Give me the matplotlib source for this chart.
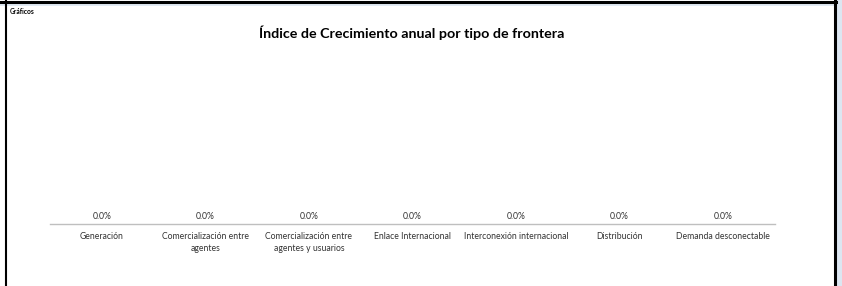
import matplotlib.pyplot as plt
from matplotlib.lines import Line2D
from matplotlib.patches import Rectangle

plt.rcParams['font.family'] = ['Lato', 'DejaVu Sans']

## Annual growth index per border type (all values are zero in the source)
categorias = ['Generación', 'Comercialización entre\nagentes',
              'Comercialización entre\nagentes y usuarios', 'Enlace Internacional',
              'Interconexión internacional', 'Distribución', 'Demanda desconectable']
valores = [0.0, 0.0, 0.0, 0.0, 0.0, 0.0, 0.0]

W, H = 842, 286
fig = plt.figure(figsize=(W / 100, H / 100), dpi=100)

# light blue strip on the right, and the sheet frame
fig.add_artist(Rectangle((837 / W, 0), 5 / W, 1, transform=fig.transFigure, color='#dce6f1', lw=0))
fig.add_artist(Line2D([0, 835.5 / W], [1 - 4.5 / H, 1 - 4.5 / H], transform=fig.transFigure, color='#dce6f1', lw=1.2))
fig.add_artist(Line2D([0, 836 / W], [1 - 1.8 / H, 1 - 1.8 / H], transform=fig.transFigure, color='black', lw=2.2))
fig.add_artist(Line2D([5.5 / W, 5.5 / W], [0, 1 - 1 / H], transform=fig.transFigure, color='black', lw=1.5))
fig.add_artist(Line2D([835 / W, 835 / W], [0, 1 - 1 / H], transform=fig.transFigure, color='black', lw=2.2))

fig.text(10 / W, 1 - 11 / H, 'Gráficos', fontsize=4.8, fontweight='bold', va='center', ha='left')
fig.text(412 / W, 1 - 33 / H, 'Índice de Crecimiento anual por tipo de frontera',
         fontsize=10.3, fontweight='bold', va='center', ha='center')

ax = fig.add_axes([50 / W, 1 - 224 / H, 725 / W, 170 / H])
x = range(len(categorias))
ax.bar(x, valores, width=0.6, color='#4f81bd')
ax.set_xlim(-0.5, len(categorias) - 0.5)
ax.set_ylim(0, 1)
for i, v in zip(x, valores):
    ax.text(i, 0.018, '%.1f%%' % (v * 100), ha='center', va='bottom', fontsize=6.2, color='#333333')

ax.set_xticks(list(x))
ax.set_xticklabels(categorias, fontsize=6.2, color='#333333', linespacing=1.45, va='top')
ax.tick_params(axis='x', length=0, pad=6)
ax.set_yticks([])
for s in ['top', 'left', 'right']:
    ax.spines[s].set_visible(False)
ax.spines['bottom'].set_color('#bfbfbf')
ax.spines['bottom'].set_linewidth(1.0)
ax.patch.set_alpha(0)

fig.savefig('out.png', dpi=100)
